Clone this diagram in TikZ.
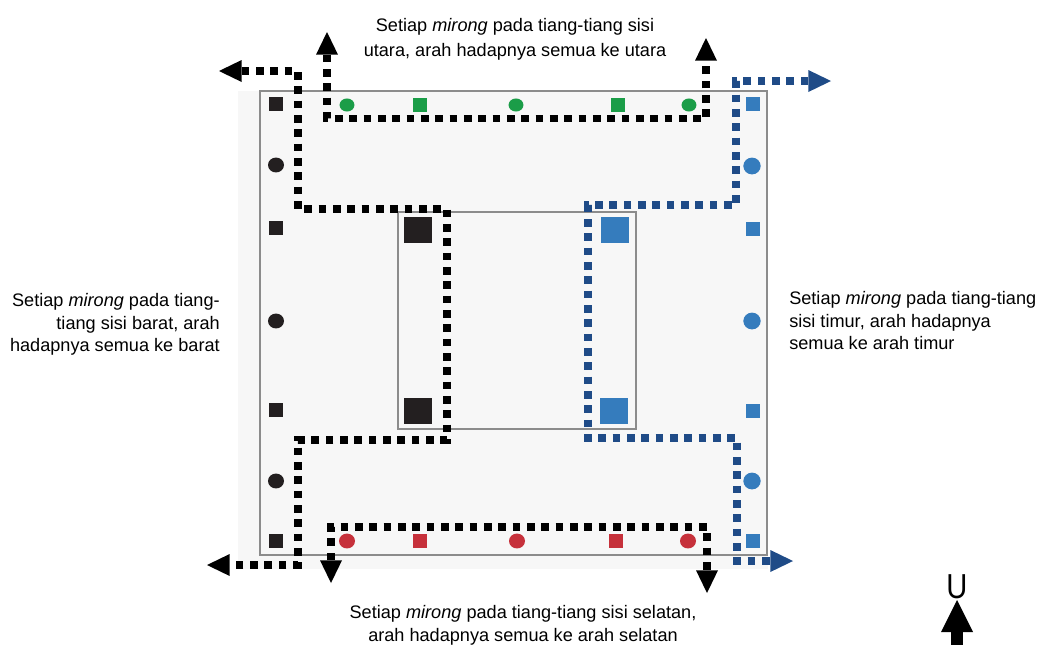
\documentclass[tikz,border=0pt]{standalone}
\usepackage{fontspec}
\setmainfont{Liberation Sans}
\usetikzlibrary{arrows.meta,shapes.geometric}
\definecolor{bgpaper}{HTML}{F7F7F7}
\definecolor{framegray}{HTML}{8C8C8C}
\definecolor{markblack}{HTML}{231F20}
\definecolor{markblue}{HTML}{357CBD}
\definecolor{markgreen}{HTML}{1B9D48}
\definecolor{markred}{HTML}{C6313B}
\definecolor{dotblue}{HTML}{1F4B87}
\tikzset{
  frameline/.style={draw=framegray, line width=1pt},
  msq/.style={rectangle, inner sep=0pt, minimum width=10.8pt, minimum height=10.8pt},
  mbig/.style={rectangle, inner sep=0pt, minimum width=21pt, minimum height=19.5pt},
  mcirc/.style={ellipse, inner sep=0pt, minimum width=12pt, minimum height=11.2pt},
  route/.style={line width=5.8pt, dash pattern=on 5.8pt off 4.95pt, line cap=butt, miter limit=10,
    {Triangle[length=17pt,width=16.5pt,line width=0pt]}-{Triangle[length=17pt,width=16.5pt,line width=0pt]}},
  label/.style={font=\fontsize{13.6}{18}\selectfont, inner sep=0pt},
}
\begin{document}
\begin{tikzpicture}[x=0.75pt,y=-0.75pt]
\useasboundingbox (0,0) rectangle (1039,644);

% paper and outlines of the hall
\fill[bgpaper] (238,91) rectangle (768,569);
\draw[frameline] (260,91) rectangle (767,555);
\draw[frameline] (398,212) rectangle (636,429);

% west side posts
\foreach \y [count=\i] in {104,228,410,541}
  \node[msq, fill=markblack] (ws\i) at (276,\y) {};
\foreach \y [count=\i] in {165,321,481}
  \node[mcirc, fill=markblack] (wc\i) at (276,\y) {};

% north side posts
\foreach \x [count=\i] in {347,516,689}
  \node[mcirc, fill=markgreen, minimum width=11.2pt, minimum height=9.8pt] (nc\i) at (\x,105) {};
\foreach \x [count=\i] in {420,618}
  \node[msq, fill=markgreen, minimum width=10pt, minimum height=10pt] (ns\i) at (\x,105) {};

% east side posts
\foreach \y [count=\i] in {104,229,411,541}
  \node[msq, fill=markblue] (es\i) at (753,\y) {};
\foreach \y [count=\i] in {166,321,481}
  \node[mcirc, fill=markblue, minimum width=13pt, minimum height=12.6pt] (ec\i) at (752,\y) {};

% south side posts
\foreach \x [count=\i] in {347,517,688}
  \node[mcirc, fill=markred] (sc\i) at (\x,541) {};
\foreach \x [count=\i] in {420,616}
  \node[msq, fill=markred, minimum width=10pt, minimum height=10pt] (ss\i) at (\x,541) {};

% inner main posts
\node[mbig, fill=markblack] (ib1) at (418,230) {};
\node[mbig, fill=markblack] (ib2) at (418,411) {};
\node[mbig, fill=markblue] (ib3) at (615,230) {};
\node[mbig, fill=markblue] (ib4) at (614,411) {};

% facing directions
\draw[route, black] (219,71) -- (298,71) -- (298,209) -- (447,209) -- (447,440)
  -- (298,440) -- (298,565) -- (207,565);
\draw[route, black] (327,32) -- (327,118.5) -- (706,118.5) -- (706,38);
\draw[route, black] (331,583) -- (331,527) -- (707,527) -- (707,593);
\draw[route, dotblue] (831,81) -- (736,81) -- (736,205) -- (588,205) -- (588,438)
  -- (737,438) -- (737,561) -- (793,561);

% captions
\node[label, anchor=base] (tn1) at (515,31) {Setiap \textit{mirong} pada tiang-tiang sisi};
\node[label, anchor=base] (tn2) at (515,56) {utara, arah hadapnya semua ke utara};
\node[label, anchor=base east] (tw1) at (220,306) {Setiap \textit{mirong} pada tiang-};
\node[label, anchor=base east] (tw2) at (220,329) {tiang sisi barat, arah};
\node[label, anchor=base east] (tw3) at (220,351.5) {hadapnya semua ke barat};
\node[label, anchor=base west] (te1) at (789,304) {Setiap \textit{mirong} pada tiang-tiang};
\node[label, anchor=base west] (te2) at (789,327) {sisi timur, arah hadapnya};
\node[label, anchor=base west] (te3) at (789,349.5) {semua ke arah timur};
\node[label, anchor=base] (ts1) at (523,618.5) {Setiap \textit{mirong} pada tiang-tiang sisi selatan,};
\node[label, anchor=base] (ts2) at (523,641) {arah hadapnya semua ke arah selatan};

% north sign
\node[font=\fontsize{26}{30}\selectfont, inner sep=0pt, anchor=base, xscale=0.84] (north) at (957,598) {U};
\coordinate (nfoot) at (957,646);
\coordinate (ntip) at (957,600);
\draw[line width=9pt, -{Triangle[length=24pt,width=24pt,line width=0pt]}] (nfoot) -- (ntip);
\end{tikzpicture}
\end{document}
